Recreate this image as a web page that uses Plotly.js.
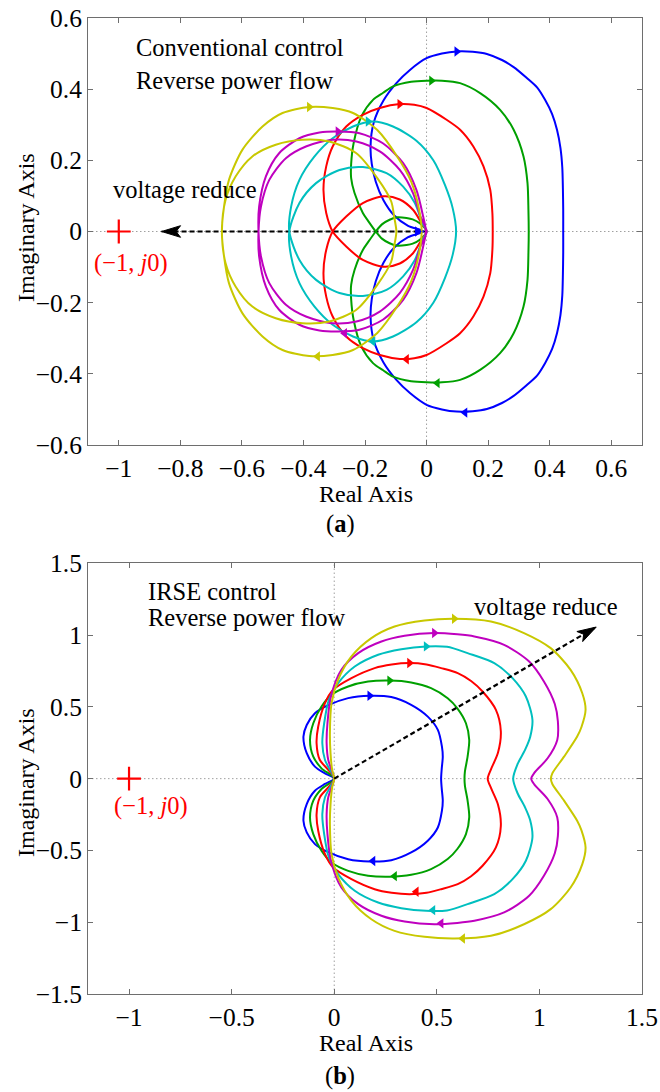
<!DOCTYPE html>
<html><head><meta charset="utf-8">
<script src="https://cdn.plot.ly/plotly-3.0.1.min.js"></script>
<style>html,body{margin:0;padding:0;background:#fff}#chart{width:660px;height:1092px}</style>
</head><body><div id="chart"></div>
<script>
// ================= DATA =================
// Curve colours (MATLAB style)
const curveNames = ['blue', 'green', 'red', 'cyan', 'magenta', 'yellow'];
const curveColors = ['#0000ff', '#00a000', '#ff0000', '#00bfbf', '#bf00bf', '#c8c800'];

// ---- (a) Conventional control: upper half (Im >= 0) of each Nyquist contour ----
// "loop" = inner loop from origin side to the left real-axis crossing
// "arc"  = outer arc from the left real-axis crossing to the right real-axis crossing
const topBlueArcX  = [-0.011,-0.06,-0.105,-0.14,-0.165,-0.178,-0.182,-0.172,-0.14,-0.098,-0.054,0,0.05,0.098,0.15,0.196,0.245,0.283,0.325,0.359,0.385,0.408,0.424,0.435,0.441,0.443,0.444,0.444];
const topBlueArcY  = [0,0.016,0.045,0.088,0.14,0.19,0.239,0.305,0.368,0.417,0.454,0.487,0.5,0.506,0.505,0.499,0.482,0.462,0.432,0.405,0.37,0.33,0.285,0.235,0.18,0.12,0.06,0];

const topGreenLoopX = [0,-0.022,-0.045,-0.065,-0.095,-0.12,-0.145,-0.165];
const topGreenLoopY = [0,0.023,0.034,0.038,0.04,0.033,0.02,0];
const topGreenArcX  = [-0.165,-0.19,-0.207,-0.234,-0.245,-0.245,-0.237,-0.212,-0.174,-0.141,-0.109,-0.05,0,0.05,0.109,0.174,0.239,0.283,0.315,0.328,0.331,0.332];
const topGreenArcY  = [0,0.03,0.052,0.108,0.15,0.19,0.248,0.323,0.37,0.39,0.408,0.421,0.424,0.424,0.417,0.389,0.342,0.286,0.211,0.136,0.06,0];

const topRedLoopX = [0,-0.016,-0.044,-0.087,-0.14,-0.207,-0.261,-0.305];
const topRedLoopY = [0,0.023,0.061,0.09,0.099,0.08,0.042,0];
const topRedArcX  = [-0.305,-0.326,-0.335,-0.326,-0.305,-0.261,-0.207,-0.152,-0.087,-0.04,0,0.065,0.109,0.152,0.185,0.207,0.214,0.215];
const topRedArcY  = [0,0.052,0.117,0.183,0.239,0.295,0.328,0.347,0.358,0.356,0.347,0.314,0.286,0.239,0.183,0.117,0.05,0];

const topCyanLoopX = [0,-0.013,-0.038,-0.076,-0.13,-0.207,-0.283,-0.359,-0.413,-0.446];
const topCyanLoopY = [0,0.023,0.08,0.126,0.164,0.181,0.173,0.136,0.08,0];
const topCyanArcX  = [-0.446,-0.44,-0.413,-0.364,-0.305,-0.239,-0.174,-0.109,-0.033,0.022,0.06,0.085,0.096];
const topCyanArcY  = [0,0.07,0.145,0.211,0.262,0.295,0.309,0.295,0.255,0.2,0.13,0.065,0];

const topMagentaLoopX = [0,-0.02,-0.044,-0.087,-0.152,-0.228,-0.305,-0.392,-0.457,-0.511,-0.538,-0.546];
const topMagentaLoopY = [0,0.042,0.108,0.173,0.225,0.253,0.258,0.239,0.206,0.145,0.07,0];
const topMagentaArcX  = [-0.546,-0.544,-0.522,-0.479,-0.413,-0.348,-0.288,-0.218,-0.142,-0.076,-0.033,-0.011,-0.002];
const topMagentaArcY  = [0,0.07,0.155,0.22,0.262,0.278,0.281,0.276,0.248,0.192,0.117,0.042,0];

const topYellowLoopX = [-0.098,-0.105,-0.115,-0.16,-0.228,-0.316,-0.403,-0.49,-0.566,-0.62,-0.653,-0.665];
const topYellowLoopY = [0,0.04,0.085,0.15,0.22,0.253,0.258,0.244,0.211,0.155,0.089,0];
const topYellowArcX  = [-0.665,-0.658,-0.642,-0.598,-0.533,-0.468,-0.381,-0.305,-0.239,-0.16,-0.095,-0.05,-0.025,-0.016];
const topYellowArcY  = [0,0.07,0.145,0.23,0.295,0.333,0.35,0.347,0.333,0.285,0.21,0.14,0.065,0];

// direction arrows (a): upper half points right, lower half points left
const topArrowUpX = [0.098, 0.016, -0.087, -0.19, -0.288, -0.381];
const topArrowUpY = [0.506, 0.424, 0.358, 0.309, 0.281, 0.35];
const topArrowLoX = [0.125, 0.035, -0.065, -0.174, -0.266, -0.354];
const topArrowLoY = [-0.509, -0.426, -0.359, -0.309, -0.286, -0.351];
// arrowhead of the blue contour at the origin
const topOriginArrowX = [-0.03];
const topOriginArrowY = [0];

// ---- (b) IRSE control: upper half of each contour, from origin to right real-axis crossing ----
const botBlueX = [0,-0.045,-0.094,-0.134,-0.15,-0.134,-0.094,-0.037,0.068,0.173,0.278,0.375,0.456,0.505,0.525,0.529,0.524,0.521];
const botBlueY = [0,0.037,0.084,0.177,0.293,0.374,0.456,0.507,0.561,0.577,0.568,0.514,0.432,0.34,0.223,0.153,0.07,0];

const botGreenX = [0,-0.062,-0.102,-0.118,-0.102,-0.062,-0.013,0.068,0.165,0.27,0.375,0.472,0.553,0.6,0.642,0.658,0.65,0.637,0.635];
const botGreenY = [0,0.072,0.153,0.27,0.386,0.502,0.584,0.642,0.676,0.683,0.67,0.63,0.56,0.49,0.386,0.27,0.153,0.05,0];

const botRedX = [0,-0.029,-0.07,-0.086,-0.078,-0.045,-0.005,0.084,0.197,0.28,0.367,0.45,0.521,0.602,0.667,0.723,0.788,0.812,0.798,0.764,0.748];
const botRedY = [0,0.061,0.13,0.247,0.363,0.526,0.619,0.7,0.77,0.795,0.805,0.795,0.77,0.735,0.68,0.607,0.479,0.33,0.18,0.065,0];

const botCyanX = [0,-0.016,-0.045,-0.058,-0.049,-0.026,0.019,0.1,0.214,0.327,0.448,0.55,0.65,0.78,0.869,0.934,0.966,0.955,0.93,0.893,0.872];
const botCyanY = [0,0.049,0.13,0.247,0.386,0.549,0.665,0.781,0.863,0.902,0.921,0.918,0.874,0.805,0.7,0.572,0.41,0.29,0.2,0.1,0];

const botMagentaX = [0,-0.01,-0.029,-0.037,-0.033,-0.016,0.035,0.117,0.23,0.343,0.488,0.6,0.683,0.828,0.95,1.022,1.075,1.09,1.087,1.04,0.975,0.96];
const botMagentaY = [0,0.049,0.13,0.247,0.386,0.572,0.758,0.874,0.955,0.995,1.014,1.005,0.99,0.932,0.816,0.677,0.52,0.4,0.27,0.142,0.04,0];

const botYellowX = [0,-0.01,-0.018,-0.021,-0.013,0.019,0.084,0.181,0.294,0.44,0.585,0.764,0.925,1.055,1.152,1.209,1.225,1.205,1.184,1.12,1.063,1.056];
const botYellowY = [0,0.06,0.177,0.317,0.526,0.688,0.851,0.979,1.06,1.102,1.114,1.095,1.014,0.909,0.758,0.595,0.48,0.36,0.293,0.153,0.037,0];

// direction arrows (b)
const botArrowUpX = [0.173, 0.27, 0.367, 0.448, 0.488, 0.585];
const botArrowUpY = [0.577, 0.683, 0.805, 0.921, 1.014, 1.114];
const botArrowLoX = [0.189, 0.294, 0.4, 0.481, 0.521, 0.626];
const botArrowLoY = [-0.574, -0.679, -0.788, -0.916, -1.008, -1.113];

// critical point and "voltage reduce" arrows
const criticalX = [-1];
const criticalY = [0];
const topReduceX = [0, -0.861];
const topReduceY = [0, 0];
const botReduceX = [0, 1.277];
const botReduceY = [0, 1.056];

// axis ranges / ticks
const topXRange = [-1.1, 0.7], topYRange = [-0.6, 0.6], topDtick = 0.2;
const botXRange = [-1.2, 1.5], botYRange = [-1.5, 1.5], botDtick = 0.5;

// ================= BUILD =================
// Nyquist contours are conjugate-symmetric: lower half is the mirror of the upper half.
function closeHalf(x, y) {
  const X = x.slice(), Y = y.slice();
  for (let i = x.length - 2; i >= 0; i--) { X.push(x[i]); Y.push(-y[i]); }
  return {x: X, y: Y};
}
function closeLoopArc(lx, ly, ax, ay) {
  const X = [], Y = [];
  for (let i = 0; i < lx.length; i++) { X.push(lx[i]); Y.push(-ly[i]); }
  for (let i = 1; i < ax.length; i++) { X.push(ax[i]); Y.push(ay[i]); }
  for (let i = ax.length - 2; i >= 0; i--) { X.push(ax[i]); Y.push(-ay[i]); }
  for (let i = lx.length - 2; i >= 0; i--) { X.push(lx[i]); Y.push(ly[i]); }
  return {x: X, y: Y};
}

const topCurves = [
  closeHalf(topBlueArcX, topBlueArcY),
  closeLoopArc(topGreenLoopX, topGreenLoopY, topGreenArcX, topGreenArcY),
  closeLoopArc(topRedLoopX, topRedLoopY, topRedArcX, topRedArcY),
  closeLoopArc(topCyanLoopX, topCyanLoopY, topCyanArcX, topCyanArcY),
  closeLoopArc(topMagentaLoopX, topMagentaLoopY, topMagentaArcX, topMagentaArcY),
  closeLoopArc(topYellowLoopX, topYellowLoopY, topYellowArcX, topYellowArcY)
];
const botCurves = [
  closeHalf(botBlueX, botBlueY),
  closeHalf(botGreenX, botGreenY),
  closeHalf(botRedX, botRedY),
  closeHalf(botCyanX, botCyanY),
  closeHalf(botMagentaX, botMagentaY),
  closeHalf(botYellowX, botYellowY)
];

const FONT = 'Liberation Serif, Times New Roman, serif';
const traces = [];

function addCurves(curves, xa, ya) {
  curves.forEach((c, i) => {
    traces.push({x: c.x, y: c.y, xaxis: xa, yaxis: ya, type: 'scatter', mode: 'lines',
      name: curveNames[i], showlegend: false, hoverinfo: 'skip',
      line: {color: curveColors[i], width: 2, shape: 'spline', smoothing: 0.8}});
  });
}
function addArrows(ux, uy, lx, ly, xa, ya) {
  traces.push({x: ux, y: uy, xaxis: xa, yaxis: ya, type: 'scatter', mode: 'markers', showlegend: false, hoverinfo: 'skip',
    marker: {symbol: 'triangle-right', size: 9, color: curveColors, line: {width: 0}}});
  traces.push({x: lx, y: ly, xaxis: xa, yaxis: ya, type: 'scatter', mode: 'markers', showlegend: false, hoverinfo: 'skip',
    marker: {symbol: 'triangle-left', size: 9, color: curveColors, line: {width: 0}}});
}
function addReduce(rx, ry, xa, ya) {
  traces.push({x: rx, y: ry, xaxis: xa, yaxis: ya, type: 'scatter', mode: 'lines', showlegend: false, hoverinfo: 'skip',
    line: {color: '#000', width: 2.2, dash: '5px,3px'}});
}
function addCritical(xa, ya) {
  traces.push({x: criticalX, y: criticalY, xaxis: xa, yaxis: ya, type: 'scatter', mode: 'markers', showlegend: false, hoverinfo: 'skip',
    marker: {symbol: 'cross-thin', size: 17, line: {color: '#ff0000', width: 2.2}}});
}

addReduce(topReduceX, topReduceY, 'x', 'y');
addCurves(topCurves, 'x', 'y');
addArrows(topArrowUpX, topArrowUpY, topArrowLoX, topArrowLoY, 'x', 'y');
traces.push({x: topOriginArrowX, y: topOriginArrowY, xaxis: 'x', yaxis: 'y', type: 'scatter', mode: 'markers', showlegend: false, hoverinfo: 'skip',
  marker: {symbol: 'triangle-right', size: 9, color: curveColors[0], line: {width: 0}}});
addCritical('x', 'y');

addCurves(botCurves, 'x2', 'y2');
addReduce(botReduceX, botReduceY, 'x2', 'y2');
addArrows(botArrowUpX, botArrowUpY, botArrowLoX, botArrowLoY, 'x2', 'y2');
addCritical('x2', 'y2');

const W = 660, H = 1092;
const margin = {l: 88, r: 18, t: 18, b: 98};
const topDomain = [0.5625, 1];
const botDomain = [0, 0.4413];

function axisBase(range, dtick, domain, anchor) {
  return {range: range, dtick: dtick, tick0: 0, domain: domain, anchor: anchor,
    showgrid: false, zeroline: false, showline: true, mirror: 'ticks',
    linecolor: '#6e6e6e', linewidth: 1, ticks: 'inside', ticklen: 5, tickcolor: '#6e6e6e', tickwidth: 1,
    tickfont: {family: FONT, size: 25.5, color: '#000'}, fixedrange: true};
}
const xa1 = axisBase(topXRange, topDtick, [0, 1], 'y');
const ya1 = axisBase(topYRange, topDtick, topDomain, 'x');
const xa2 = axisBase(botXRange, botDtick, [0, 1], 'y2');
const ya2 = axisBase(botYRange, botDtick, botDomain, 'x2');

// pixel scale for arrowhead orientation
const plotW = W - margin.l - margin.r, plotH = H - margin.t - margin.b;
const pxToPaperX = p => (p - margin.l) / plotW;
const pxToPaperY = p => (H - margin.b - p) / plotH;
function headPath(dxData, dyData, xr, yr, dom) {
  const sx = plotW / (xr[1] - xr[0]);
  const sy = plotH * (dom[1] - dom[0]) / (yr[1] - yr[0]);
  const px = dxData * sx, py = dyData * sy;
  const n = Math.hypot(px, py), ux = px / n, uy = py / n;
  const L = 19, Wd = 5.8, N = 14.5;
  const bx = -ux * L, by = -uy * L;
  const qx = -uy, qy = ux;
  const p1 = [bx + qx * Wd, by + qy * Wd], p2 = [bx - qx * Wd, by - qy * Wd], p3 = [-ux * N, -uy * N];
  const f = v => v.toFixed(2);
  return 'M0,0 L' + f(p1[0]) + ',' + f(p1[1]) + ' L' + f(p3[0]) + ',' + f(p3[1]) + ' L' + f(p2[0]) + ',' + f(p2[1]) + ' Z';
}

const dotLine = {color: '#a0a0a0', width: 1, dash: '1.5px,2.5px'};
const shapes = [
  // dotted zero lines
  {type: 'line', xref: 'x', yref: 'y domain', x0: 0, x1: 0, y0: 0, y1: 1, layer: 'below', line: dotLine},
  {type: 'line', xref: 'x domain', yref: 'y', x0: 0, x1: 1, y0: 0, y1: 0, layer: 'below', line: dotLine},
  {type: 'line', xref: 'x2', yref: 'y2 domain', x0: 0, x1: 0, y0: 0, y1: 1, layer: 'below', line: dotLine},
  {type: 'line', xref: 'x2 domain', yref: 'y2', x0: 0, x1: 1, y0: 0, y1: 0, layer: 'below', line: dotLine},
  // arrowheads of the "voltage reduce" arrows
  {type: 'path', xref: 'x', yref: 'y', xsizemode: 'pixel', ysizemode: 'pixel',
    xanchor: topReduceX[1], yanchor: topReduceY[1],
    path: headPath(topReduceX[1] - topReduceX[0], topReduceY[1] - topReduceY[0], topXRange, topYRange, topDomain),
    fillcolor: '#000', line: {color: '#000', width: 1}},
  {type: 'path', xref: 'x2', yref: 'y2', xsizemode: 'pixel', ysizemode: 'pixel',
    xanchor: botReduceX[1], yanchor: botReduceY[1],
    path: headPath(botReduceX[1] - botReduceX[0], botReduceY[1] - botReduceY[0], botXRange, botYRange, botDomain),
    fillcolor: '#000', line: {color: '#000', width: 1}}
];

const tf = (c) => ({family: FONT, size: 24.5, color: c || '#000'});
const titleFont = {family: FONT, size: 24, color: '#000'};
const annotations = [
  // axis titles
  {xref: 'paper', yref: 'paper', x: pxToPaperX(365.5), y: pxToPaperY(494), text: 'Real Axis', showarrow: false, xanchor: 'center', yanchor: 'middle', borderpad: 0, font: titleFont},
  {xref: 'paper', yref: 'paper', x: pxToPaperX(26), y: pxToPaperY(228), text: 'Imaginary Axis', textangle: -90, showarrow: false, xanchor: 'center', yanchor: 'middle', borderpad: 0, font: titleFont},
  {xref: 'paper', yref: 'paper', x: pxToPaperX(365.5), y: pxToPaperY(1043), text: 'Real Axis', showarrow: false, xanchor: 'center', yanchor: 'middle', borderpad: 0, font: titleFont},
  {xref: 'paper', yref: 'paper', x: pxToPaperX(26), y: pxToPaperY(783), text: 'Imaginary Axis', textangle: -90, showarrow: false, xanchor: 'center', yanchor: 'middle', borderpad: 0, font: titleFont},
  // in-plot labels
  {xref: 'x', yref: 'y', x: -0.952, y: 0.516, text: 'Conventional control', showarrow: false, xanchor: 'left', yanchor: 'middle', font: tf()},
  {xref: 'x', yref: 'y', x: -0.952, y: 0.4236, text: 'Reverse power flow', showarrow: false, xanchor: 'left', yanchor: 'middle', font: tf()},
  {xref: 'x', yref: 'y', x: -0.786, y: 0.117, text: 'voltage reduce', showarrow: false, xanchor: 'center', yanchor: 'middle', font: tf()},
  {xref: 'x', yref: 'y', x: -0.959, y: -0.089, text: '(\u22121, <i>j</i>0)', showarrow: false, xanchor: 'center', yanchor: 'middle', font: tf('#ff0000')},
  {xref: 'x2', yref: 'y2', x: -0.916, y: 1.304, text: 'IRSE control', showarrow: false, xanchor: 'left', yanchor: 'middle', font: tf()},
  {xref: 'x2', yref: 'y2', x: -0.916, y: 1.119, text: 'Reverse power flow', showarrow: false, xanchor: 'left', yanchor: 'middle', font: tf()},
  {xref: 'x2', yref: 'y2', x: 1.034, y: 1.2, text: 'voltage reduce', showarrow: false, xanchor: 'center', yanchor: 'middle', font: tf()},
  {xref: 'x2', yref: 'y2', x: -0.895, y: -0.19, text: '(\u22121, <i>j</i>0)', showarrow: false, xanchor: 'center', yanchor: 'middle', font: tf('#ff0000')},
  // panel labels
  {xref: 'paper', yref: 'paper', x: pxToPaperX(340), y: pxToPaperY(524), text: '(<b>a</b>)', showarrow: false, xanchor: 'center', yanchor: 'middle', font: tf()},
  {xref: 'paper', yref: 'paper', x: pxToPaperX(340), y: pxToPaperY(1076), text: '(<b>b</b>)', showarrow: false, xanchor: 'center', yanchor: 'middle', font: tf()}
];

const layout = {
  width: W, height: H, margin: margin,
  paper_bgcolor: '#fff', plot_bgcolor: '#fff',
  showlegend: false,
  xaxis: xa1, yaxis: ya1, xaxis2: xa2, yaxis2: ya2,
  shapes: shapes, annotations: annotations,
  font: {family: FONT, size: 24, color: '#000'}
};

Plotly.newPlot('chart', traces, layout, {staticPlot: true, displayModeBar: false});
</script>
</body></html>
